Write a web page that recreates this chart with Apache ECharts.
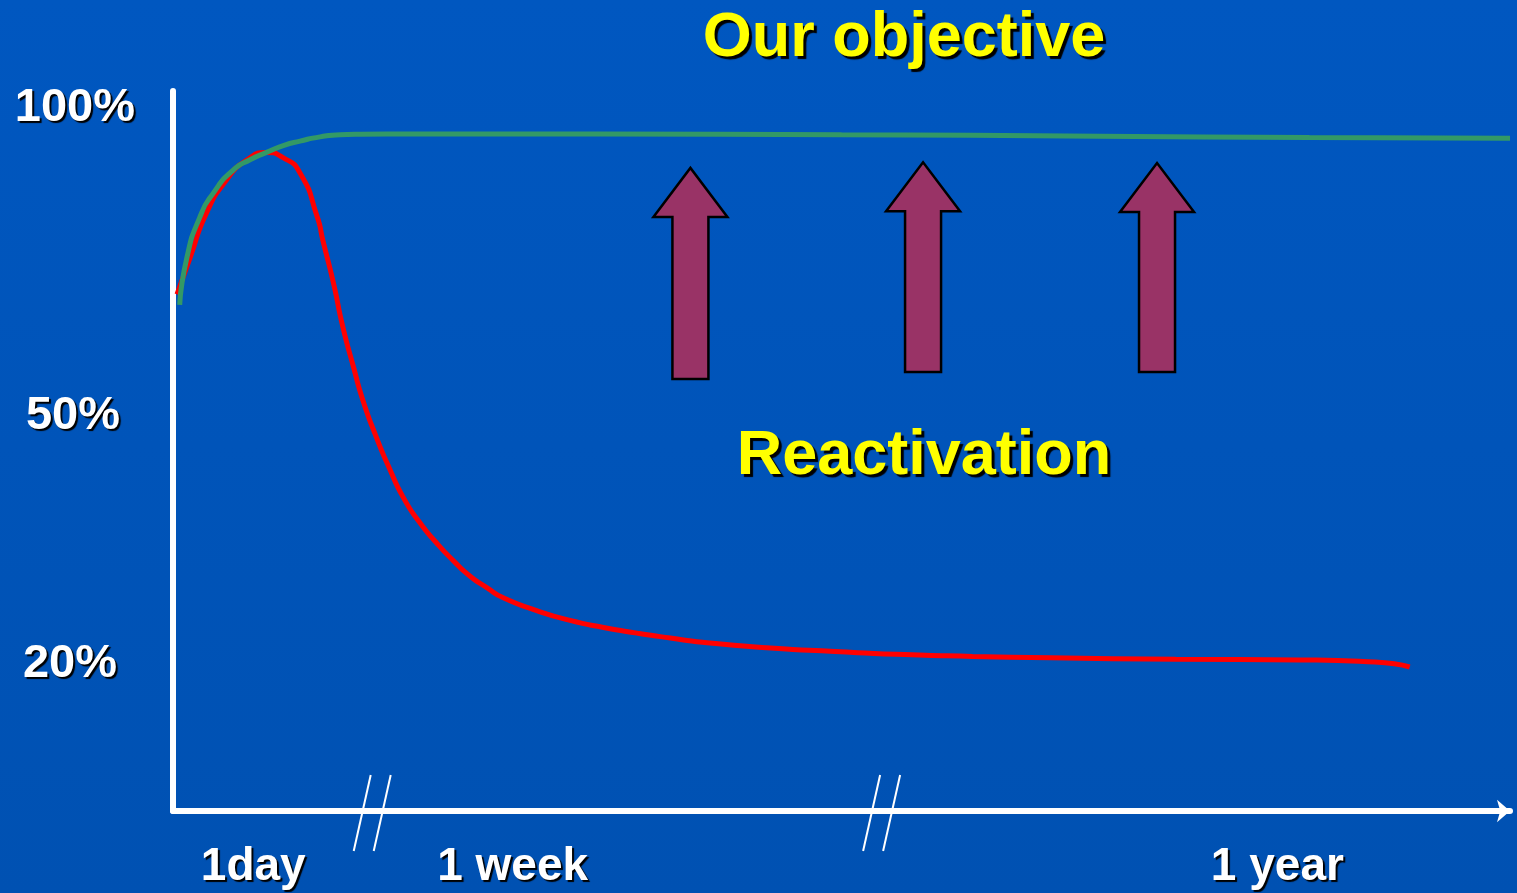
<!DOCTYPE html>
<html>
<head>
<meta charset="utf-8">
<title>Our objective</title>
<script src="https://cdn.jsdelivr.net/npm/echarts@6/dist/echarts.min.js"></script>
<style>
  html, body { margin: 0; padding: 0; }
  #chart { width: 1517px; height: 893px; }
</style>
</head>
<body>
<div id="chart"></div>
<script>
// schematic time axis (0..100), level axis in %
const xTickValues = [6, 25.4, 82.6];
const xTickLabels = ['1day', '1 week', '1 year'];
const yTickValues = [100, 50, 20];
const yTickLabels = ['100%', '50%', '20%'];
const axisBreaks = [14.9, 53.0];

// red: drops after the first day
const untreated = [
  [0.3, 73.2], [1.3, 78.5], [2.5, 84.7], [4.0, 89.4], [5.5, 92.2], [7.0, 93.3],
  [8.2, 92.6], [9.5, 90.4], [10.8, 84.1], [11.2, 80.9], [12.0, 74.8], [12.7, 68.6],
  [13.5, 62.9], [14.2, 58.2], [15.2, 53.0], [16.2, 48.5], [17.2, 44.5], [18.4, 41.0],
  [19.7, 38.0], [21.0, 35.4], [22.2, 33.3], [23.5, 31.6], [24.7, 30.2], [27.2, 28.4],
  [29.7, 27.0], [32.2, 26.0], [34.7, 25.2], [37.2, 24.5], [39.6, 23.9], [44.7, 23.1],
  [49.5, 22.6], [54.1, 22.2], [59.8, 21.9], [65.6, 21.7], [75.0, 21.5], [84.3, 21.4],
  [89.9, 21.1], [92.5, 20.4]
];
// green: the objective
const objective = [
  [0.5, 71.7], [1.05, 78.5], [2.0, 84.1], [3.0, 87.5], [4.5, 90.8], [5.8, 92.3],
  [7.0, 93.3], [8.3, 94.3], [9.5, 94.9], [11.0, 95.5], [12.5, 95.8], [16.0, 95.9],
  [31.9, 95.9], [50.0, 95.8], [69.3, 95.6], [85.0, 95.4], [100, 95.3]
];
// reactivation arrows: [x, bottom, tip]
const reactivations = [[38.7, 61.2, 91.1], [56.1, 62.2, 91.9], [73.6, 62.2, 91.8]];

const FONT = '"Liberation Sans", Arial, sans-serif';

const chart = echarts.init(document.getElementById('chart'));

const yLabelStyle = (pad) => ({
  color: '#fff', fontFamily: FONT, fontWeight: 'bold', fontSize: 47,
  textShadowColor: '#000', textShadowBlur: 1, textShadowOffsetX: 2, textShadowOffsetY: 2,
  padding: pad
});

const option = {
  backgroundColor: new echarts.graphic.LinearGradient(0, 0, 0, 1, [
    { offset: 0, color: '#0057c0' },
    { offset: 1, color: '#0051b2' }
  ]),
  animation: false,
  grid: { left: 173, right: 7, top: 91, bottom: 82, outerBoundsMode: 'none' },
  xAxis: {
    type: 'value',
    min: 0,
    max: 100,
    splitLine: { show: false },
    axisTick: { show: false },
    axisLine: {
      lineStyle: { color: '#fff', width: 6 },
      symbol: ['none', 'arrow'],
      symbolSize: [17, 13]
    },
    axisLabel: {
      customValues: xTickValues,
      formatter: (v) => {
        const i = xTickValues.indexOf(v);
        return i < 0 ? '' : xTickLabels[i];
      },
      margin: 33,
      color: '#fff',
      fontFamily: FONT,
      fontWeight: 'bold',
      fontSize: 46,
      textShadowColor: '#000', textShadowBlur: 1, textShadowOffsetX: 2, textShadowOffsetY: 2
    }
  },
  yAxis: {
    type: 'value',
    min: 0,
    max: 102,
    splitLine: { show: false },
    axisTick: { show: false },
    axisLine: { show: true, lineStyle: { color: '#fff', width: 6 } },
    axisLabel: {
      customValues: yTickValues,
      formatter: (v) => {
        const i = yTickValues.indexOf(v);
        return i < 0 ? '' : '{l' + i + '|' + yTickLabels[i] + '}';
      },
      margin: 38,
      rich: {
        l0: yLabelStyle([6, 0, 0, 0]),
        l1: yLabelStyle([0, 15, 84, 0]),
        l2: yLabelStyle([0, 18, 12, 0])
      }
    }
  },
  graphic: [
    {
      type: 'text', x: 904, y: 39, z: 10,
      style: {
        text: 'Our objective', align: 'center', verticalAlign: 'middle',
        font: 'bold 63px ' + FONT, fill: '#ffff00',
        textShadowColor: '#000', textShadowBlur: 1, textShadowOffsetX: 3, textShadowOffsetY: 3
      }
    },
    {
      type: 'text', x: 924, y: 457, z: 10,
      style: {
        text: 'Reactivation', align: 'center', verticalAlign: 'middle',
        font: 'bold 63px ' + FONT, fill: '#ffff00',
        textShadowColor: '#000', textShadowBlur: 1, textShadowOffsetX: 3, textShadowOffsetY: 3
      }
    }
  ],
  series: [
    {
      name: 'untreated',
      type: 'line',
      data: untreated,
      smooth: 0.6,
      showSymbol: false,
      lineStyle: { color: '#ff0000', width: 5 }
    },
    {
      name: 'objective',
      type: 'line',
      data: objective,
      smooth: 0.6,
      showSymbol: false,
      lineStyle: { color: '#339966', width: 5 }
    },
    {
      name: 'reactivation',
      type: 'custom',
      clip: false,
      data: reactivations,
      renderItem: (params, api) => {
        const b = api.coord([api.value(0), api.value(1)]);
        const t = api.coord([api.value(0), api.value(2)]);
        const cx = b[0], shaft = 18, head = 37, headLen = 49;
        return {
          type: 'polygon',
          shape: {
            points: [
              [cx - shaft, b[1]], [cx - shaft, t[1] + headLen], [cx - head, t[1] + headLen],
              [cx, t[1]], [cx + head, t[1] + headLen], [cx + shaft, t[1] + headLen], [cx + shaft, b[1]]
            ]
          },
          style: { fill: '#993366', stroke: '#000', lineWidth: 2.5 }
        };
      }
    },
    {
      name: 'breaks',
      type: 'custom',
      clip: false,
      data: axisBreaks.map((x) => [x, 0]),
      renderItem: (params, api) => {
        const p = api.coord([api.value(0), api.value(1)]);
        const lines = [-10, 10].map((dx) => ({
          type: 'line',
          shape: { x1: p[0] + dx + 8.5, y1: p[1] - 36, x2: p[0] + dx - 8.5, y2: p[1] + 40 },
          style: { stroke: '#fff', lineWidth: 2 }
        }));
        return { type: 'group', children: lines };
      }
    }
  ]
};

chart.setOption(option);
window.addEventListener('resize', () => chart.resize());
</script>
</body>
</html>
